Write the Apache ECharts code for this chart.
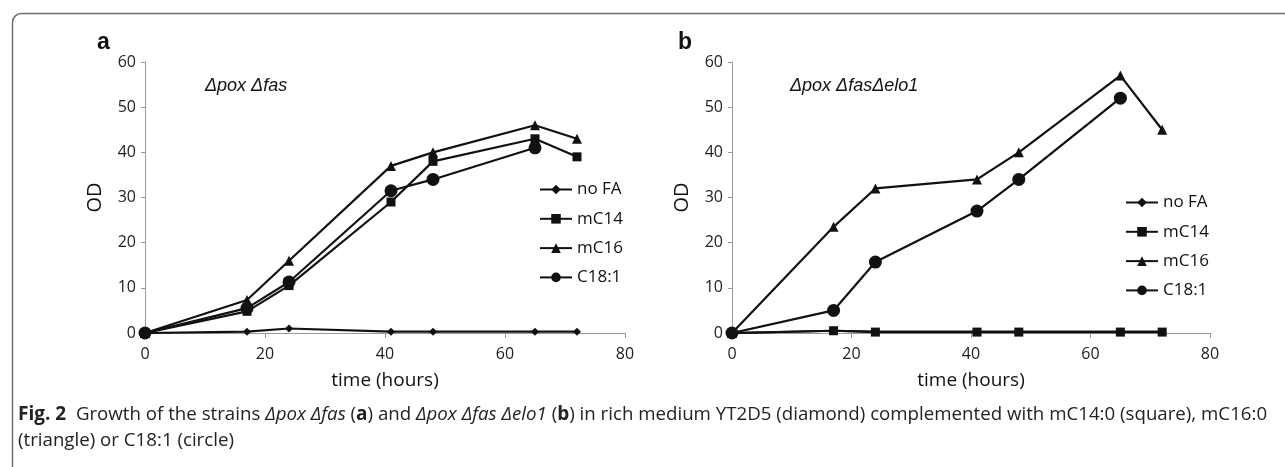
<!DOCTYPE html>
<html>
<head>
<meta charset="utf-8">
<script src="https://cdn.jsdelivr.net/npm/echarts@6/dist/echarts.min.js"></script>
<style>
    html, body { margin: 0; padding: 0; background: #fff; }
    #main { width: 1285px; height: 467px; }
</style>
</head>
<body>
<div id="main"></div>
<script>
// sampling times (hours), same for both panels
var hours = [0, 17, 24, 41, 48, 65, 72];
var seriesNames = ['no FA', 'mC14', 'mC16', 'C18:1'];
var xTicks = [0, 20, 40, 60, 80];
var yTicks = [0, 10, 20, 30, 40, 50, 60];

// panel a : Δpox Δfas
var noFA_a = [0, 0.3, 1, 0.3, 0.3, 0.3, 0.3];
var mC14_a = [0, 4.8, 10.5, 29, 38, 43, 39];
var mC16_a = [0, 7.3, 16, 37, 40, 46, 43];
var C181_a = [0, 5.5, 11.3, 31.5, 34, 41, null];

// panel b : Δpox Δfas Δelo1
var noFA_b = [0, 0.5, 0.3, 0.3, 0.3, 0.3, 0.3];
var mC14_b = [0, 0.5, 0.2, 0.2, 0.2, 0.2, 0.2];
var mC16_b = [0, 23.5, 32, 34, 40, 57, 45];
var C181_b = [0, 5, 15.7, 27, 34, 52, null];

var symbols = ['diamond', 'rect', 'triangle', 'circle'];
var symbolSizes = [8, 9, 10, 13];

function pairs(vals) {
    var out = [];
    for (var i = 0; i < hours.length; i++) {
        if (vals[i] != null) out.push([hours[i], vals[i]]);
    }
    return out;
}

function makeSeries(list, idx) {
    return list.map(function (vals, i) {
        return {
            name: seriesNames[i],
            type: 'line',
            xAxisIndex: idx,
            yAxisIndex: idx,
            data: pairs(vals),
            symbol: symbols[i],
            symbolSize: symbolSizes[i],
            showAllSymbol: true,
            lineStyle: { color: '#111', width: 2.2 },
            itemStyle: { color: '#111' },
            z: 3 + i
        };
    });
}

var font = '"Open Sans", sans-serif';

function xAxisCfg(idx) {
    return {
        type: 'value', gridIndex: idx,
        min: 0, max: 80, interval: 20,
        name: 'time (hours)', nameLocation: 'middle', nameGap: 38,
        nameTextStyle: { fontFamily: font, fontSize: 19, color: '#111' },
        axisLine: { lineStyle: { color: '#999', width: 1 } },
        axisTick: { show: true, length: 5, inside: false, lineStyle: { color: '#999' } },
        axisLabel: { fontFamily: font, fontSize: 16, color: '#222', margin: 13,
            formatter: function (v) { return xTicks.indexOf(v) >= 0 ? String(v) : ''; } },
        splitLine: { show: false }
    };
}

function yAxisCfg(idx) {
    return {
        type: 'value', gridIndex: idx,
        min: 0, max: 60, interval: 10,
        name: 'OD', nameLocation: 'middle', nameGap: 40,
        nameTextStyle: { fontFamily: font, fontSize: 20, color: '#111' },
        axisLine: { show: true, lineStyle: { color: '#999', width: 1 } },
        axisTick: { show: true, length: 4, lineStyle: { color: '#999' } },
        axisLabel: { fontFamily: font, fontSize: 16, color: '#222', margin: 9,
            formatter: function (v) { return yTicks.indexOf(v) >= 0 ? String(v) : ''; } },
        splitLine: { show: false }
    };
}

function legendCfg(left, top) {
    return {
        orient: 'vertical', left: left, top: top, padding: 0,
        data: seriesNames,
        itemWidth: 32, itemHeight: 12, itemGap: 12.3,
        textStyle: { fontFamily: font, fontSize: 17, color: '#111' },
        selectedMode: false
    };
}

var caption =
    '{b|Fig. 2}  Growth of the strains {i|Δpox Δfas} ({b|a}) and {i|Δpox Δfas Δelo1} ({b|b}) in rich medium YT2D5 (diamond) complemented with mC14:0 (square), mC16:0\n' +
    '(triangle) or C18:1 (circle)';

var myChart = echarts.init(document.getElementById('main'));
var option = {
    backgroundColor: '#fff',
    animation: false,
    grid: [
        { left: 145, top: 62, width: 480, height: 271 },
        { left: 732, top: 62, width: 478, height: 271 }
    ],
    xAxis: [xAxisCfg(0), xAxisCfg(1)],
    yAxis: [yAxisCfg(0), yAxisCfg(1)],
    legend: [legendCfg(539, 181), legendCfg(1125, 194)],
    series: makeSeries([noFA_a, mC14_a, mC16_a, C181_a], 0)
        .concat(makeSeries([noFA_b, mC14_b, mC16_b, C181_b], 1)),
    graphic: [
        {
            type: 'rect', left: 10, top: 11, silent: true,
            shape: { width: 1400, height: 600, r: 9 },
            style: { fill: null, stroke: '#6f6f6f', lineWidth: 1.5 }
        },
        {
            type: 'text', left: 97, top: 31,
            style: { text: 'a', font: 'bold 23px "Liberation Sans", Arial', fill: '#111' }
        },
        {
            type: 'text', left: 678, top: 31,
            style: { text: 'b', font: 'bold 23px "Liberation Sans", Arial', fill: '#111' }
        },
        {
            type: 'text', left: 205, top: 77,
            style: { text: 'Δpox Δfas', font: 'italic 18px "Liberation Sans", Arial', fill: '#111' }
        },
        {
            type: 'text', left: 790, top: 77,
            style: { text: 'Δpox ΔfasΔelo1', font: 'italic 18px "Liberation Sans", Arial', fill: '#111' }
        },
        {
            type: 'text', left: 18, top: 402,
            style: {
                text: caption,
                font: '18.7px "Open Sans", sans-serif',
                lineHeight: 26,
                fill: '#222',
                rich: {
                    b: { fontFamily: 'Open Sans', fontWeight: 'bold', fontSize: 19, fill: '#222' },
                    i: { fontFamily: 'Open Sans', fontStyle: 'italic', fontSize: 18.7, fill: '#222' }
                }
            }
        }
    ]
};
myChart.setOption(option);
</script>
</body>
</html>
